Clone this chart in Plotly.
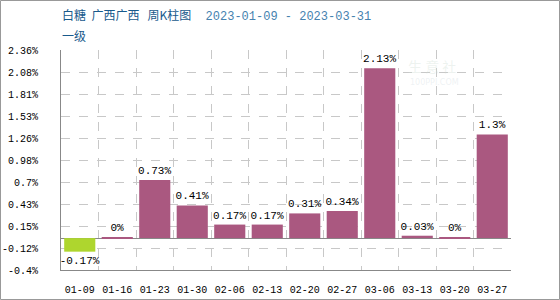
import plotly.graph_objects as go

weeks = ["01-09", "01-16", "01-23", "01-30", "02-06", "02-13", "02-20", "02-27", "03-06", "03-13", "03-20", "03-27"]
changes = [-0.17, 0.004, 0.73, 0.41, 0.17, 0.17, 0.31, 0.34, 2.13, 0.03, 0.004, 1.3]
bar_labels = ["-0.17%", "0%", "0.73%", "0.41%", "0.17%", "0.17%", "0.31%", "0.34%", "2.13%", "0.03%", "0%", "1.3%"]
tick_vals = [-0.4, -0.124, 0.152, 0.428, 0.704, 0.98, 1.256, 1.532, 1.808, 2.084, 2.36]
tick_text = ["-0.4%", "-0.12%", "0.15%", "0.43%", "0.7%", "0.98%", "1.26%", "1.53%", "1.81%", "2.08%", "2.36%"]

POS = "rgb(170,88,128)"
NEG = "rgb(174,214,46)"
colors = [NEG if v < 0 else POS for v in changes]

mono = "Liberation Mono, DejaVu Sans Mono, monospace"

fig = go.Figure(go.Bar(
    x=weeks, y=changes, marker=dict(color=colors, line=dict(width=0)),
    text=bar_labels, textposition="outside", cliponaxis=False, constraintext="none",
    textfont=dict(family=mono, size=11, color="#000"),
    hoverinfo="skip",
))

W, H = 560, 300
ml, mr, mt, mb = 61, 49, 50, 30
pw, ph = W - ml - mr, H - mt - mb

fig.update_layout(
    width=W, height=H, margin=dict(l=ml, r=mr, t=mt, b=mb, autoexpand=False),
    paper_bgcolor="white", plot_bgcolor="white", showlegend=False,
    bargap=0.17,
    xaxis=dict(
        type="category", tickson="boundaries", showgrid=True, gridcolor="#c8c8c8", griddash="dash",
        gridwidth=1, showline=True, linecolor="#888", linewidth=1, ticks="", tickangle=0,
        automargin=False,
        tickfont=dict(family=mono, size=10, color="#000"), ticklabelstandoff=10,
    ),
    yaxis=dict(
        range=[-0.4, 2.36], tickvals=tick_vals, ticktext=tick_text, automargin=False,
        showgrid=True, gridcolor="#c8c8c8", griddash="dash", gridwidth=1,
        showline=True, linecolor="#888", linewidth=1, ticks="",
        zeroline=True, zerolinecolor="#888", zerolinewidth=1,
        tickfont=dict(family=mono, size=10, color="#000"), ticklabelstandoff=20,
    ),
    font=dict(family=mono),
)

def px(xp):
    return (xp - ml) / pw

def py(yp):
    return 1 - (yp - mt) / ph

fig.add_annotation(
    x=px(60), y=py(15), xref="paper", yref="paper", xanchor="left", yanchor="middle",
    showarrow=False,
    text="<span style='font-family:Noto Sans CJK SC;color:rgb(24,90,140)'>白糖&nbsp;&nbsp;广西广西&nbsp;&nbsp;&nbsp;周K柱图</span>"
         "<span style='color:rgb(70,130,175)'>&nbsp;&nbsp;2023-01-09 - 2023-03-31</span>",
    font=dict(family=mono, size=12, color="rgb(24,90,140)"),
)
fig.add_annotation(
    x=px(60), y=py(35), xref="paper", yref="paper", xanchor="left", yanchor="middle",
    showarrow=False, text="一级",
    font=dict(family="Noto Sans CJK SC", size=12, color="rgb(24,90,140)"),
)
# faint watermark
fig.add_annotation(
    x=px(432), y=py(66), xref="paper", yref="paper", xanchor="center", yanchor="middle",
    showarrow=False, text="生 意 社",
    font=dict(family="Noto Sans CJK SC", size=14, color="rgba(205,220,210,0.35)"),
)
fig.add_annotation(
    x=px(434), y=py(82), xref="paper", yref="paper", xanchor="center", yanchor="middle",
    showarrow=False, text="100PPI.COM",
    font=dict(family="DejaVu Sans", size=8, color="rgba(205,215,220,0.35)"),
)
# outer border
fig.add_shape(
    type="rect", xref="paper", yref="paper",
    x0=px(0.5), x1=px(W - 0.5), y0=py(H - 0.5), y1=py(0.5),
    line=dict(color="#999", width=1), fillcolor="rgba(0,0,0,0)", layer="above",
)

fig.write_html("out.html")
